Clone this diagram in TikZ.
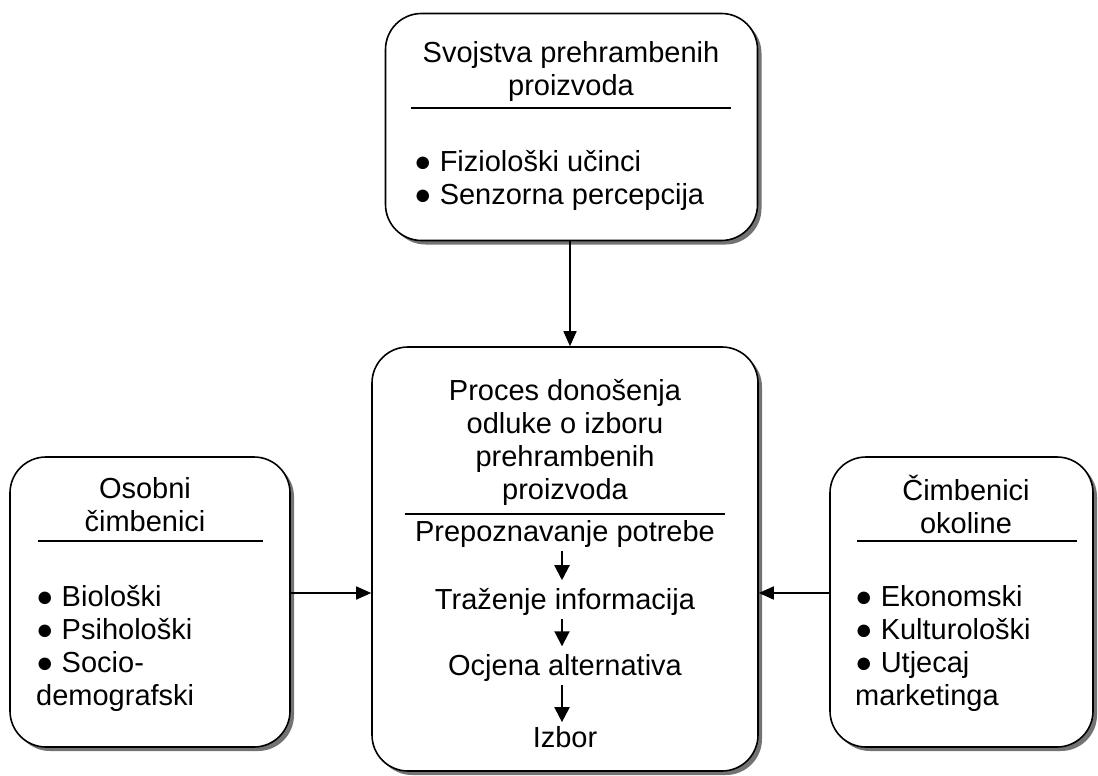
\documentclass[tikz,border=0pt]{standalone}
\usepackage{fontspec}
\setmainfont{Liberation Sans}
\usetikzlibrary{arrows.meta,shadows}
\begin{document}
\begin{tikzpicture}[x=1pt,y=-1pt,
  box/.style={draw=black,line width=1.6pt,rounded corners=36pt,fill=white,
    drop shadow={shadow xshift=4pt,shadow yshift=-4pt,fill=black!55,opacity=1},
    inner sep=0pt},
  txt/.style={font=\fontsize{29}{33}\selectfont,inner sep=0pt},
  divider/.style={line width=2.6pt},
  arr/.style={line width=1.6pt,-{Triangle[length=15pt,width=13pt]}},
  sarr/.style={line width=2pt,-{Triangle[length=15pt,width=15pt]}}]
\useasboundingbox (0,0) rectangle (1098,776);
% boxes
\node[box,minimum width=372pt,minimum height=227pt] (top) at (571.5,127) {};
\node[box,minimum width=386pt,minimum height=424pt] (mid) at (565,559) {};
\node[box,minimum width=280pt,minimum height=290pt] (left) at (150,602) {};
\node[box,minimum width=263pt,minimum height=290pt] (right) at (961.5,602) {};
% top box text
\node[txt,align=center] (toptitle) at (571,72) {Svojstva prehrambenih\\proizvoda};
\draw[divider] (411,108) -- (731,108);
\node[txt,align=left,anchor=west] (toplist) at (414,180) {● Fiziološki učinci\\● Senzorna percepcija};
% middle box text
\node[txt,align=center] (midtitle) at (565,442) {Proces donošenja\\odluke o izboru\\prehrambenih\\proizvoda};
\draw[divider] (405,514) -- (725,514);
\node[txt] (s1) at (565,534) {Prepoznavanje potrebe};
\node[txt] (s2) at (565,602) {Traženje informacija};
\node[txt] (s3) at (565,668) {Ocjena alternativa};
\node[txt] (s4) at (565,737) {Izbor};
\draw[sarr,shorten <=3pt,shorten >=8pt] ([xshift=-3pt]s1.south) -- ([xshift=-3pt]s2.north);
\draw[sarr,shorten <=3pt,shorten >=8pt] ([xshift=-3pt]s2.south) -- ([xshift=-3pt]s3.north);
\draw[sarr,shorten <=3pt,shorten >=4pt] ([xshift=-3pt]s3.south) -- ([xshift=-3pt]s4.north);
% left box text
\node[txt,align=center] (lefttitle) at (145,505) {Osobni\\čimbenici};
\draw[divider] (38,541) -- (263,541);
\node[txt,align=left,anchor=west] (leftlist) at (36,648) {● Biološki\\● Psihološki\\● Socio-\\demografski};
% right box text
\node[txt,align=center] (righttitle) at (966,504) {Čimbenici\\okoline};
\draw[divider] (857,541) -- (1077,541);
\node[txt,align=left,anchor=west] (rightlist) at (855,648) {● Ekonomski\\● Kulturološki\\● Utjecaj\\marketinga};
% connectors
\draw[arr] ([xshift=-1.5pt]top.south) -- ([xshift=-1.5pt]top.south |- mid.north);
\draw[arr] ([yshift=9pt]left.east) -- ([yshift=9pt]left.east -| mid.west);
\draw[arr] ([yshift=9pt]right.west) -- ([yshift=9pt]right.west -| mid.east);
\end{tikzpicture}
\end{document}
